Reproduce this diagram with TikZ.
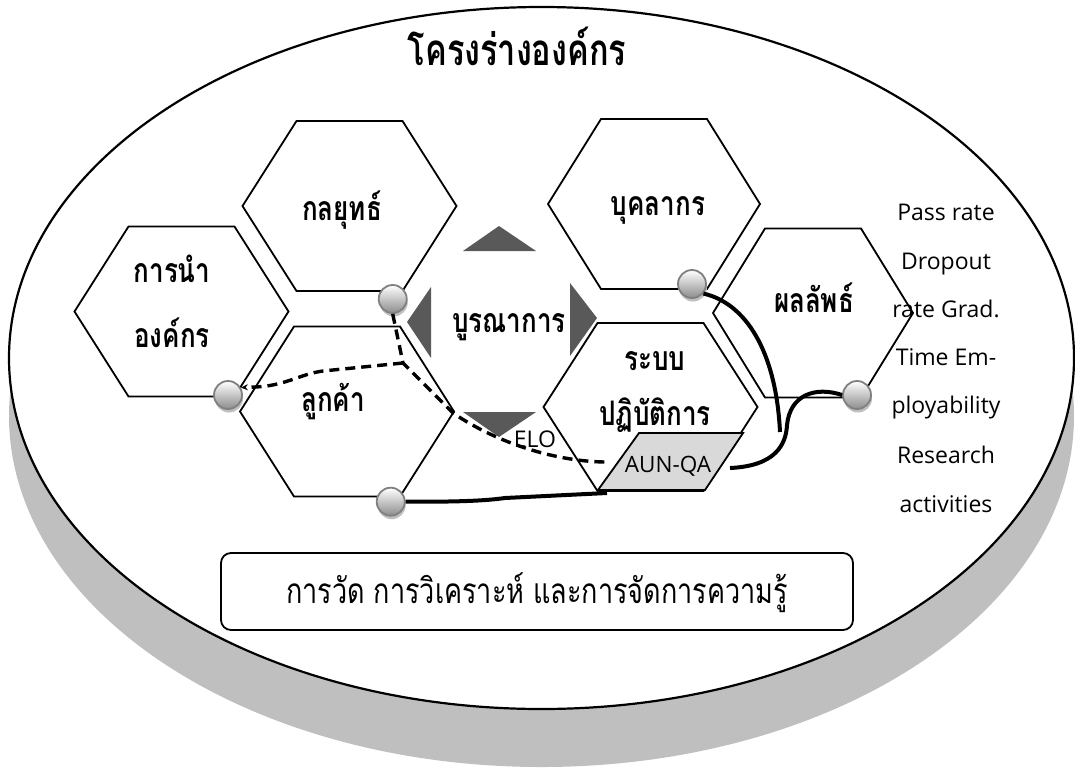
\documentclass[tikz,border=0pt]{standalone}
\usepackage{graphicx}
\usepackage{fontspec}
\setmainfont{Open Sans}
\newfontfamily\thai[Script=Thai]{Loma}
\usetikzlibrary{shadows,arrows.meta}
\definecolor{sidegray}{RGB}{191,191,191}
\definecolor{trigray}{RGB}{89,89,89}
\definecolor{aungray}{RGB}{217,217,217}
\newcommand{\vstretch}[2]{\scalebox{1}[#1]{#2}}
\newcommand{\hexagon}[5]{%
  \draw[hexline] ({#1-#3},#2) -- ({#1-#4},{#2-#5}) -- ({#1+#4},{#2-#5}) -- ({#1+#3},#2)
    -- ({#1+#4},{#2+#5}) -- ({#1-#4},{#2+#5}) -- cycle;}
\tikzset{
  hexline/.style={draw=black, line width=1.8pt, fill=white, line join=miter},
  ball/.style={circle, minimum size=28pt, inner sep=0pt, draw=black!50, line width=1.8pt,
    top color=white, bottom color=black!45,
    drop shadow={shadow xshift=1pt, shadow yshift=-3.5pt, fill=black!25, opacity=1}},
  conn/.style={line width=4pt, draw=black},
  dashconn/.style={line width=3.4pt, draw=black, dash pattern=on 10pt off 6pt},
  lab/.style={font=\thai\bfseries\fontsize{26}{30}\selectfont, anchor=base, inner sep=0pt},
  tri/.style={fill=trigray, draw=none},
  side/.style={font=\fontsize{23}{27}\selectfont, anchor=base, inner sep=0pt},
}
\begin{document}
\begin{tikzpicture}[x=1pt,y=-1pt]
\useasboundingbox (0,0) rectangle (1075,771);
% base
\fill[sidegray] (541.5,416) ellipse [x radius=532.5pt, y radius=351pt];
\draw[line width=2.2pt, fill=white] (541.5,358) ellipse [x radius=532.5pt, y radius=351pt];
\node[font=\thai\bfseries\fontsize{32.5}{36}\selectfont, anchor=base, inner sep=0pt] (title) at (517,65) {\vstretch{1.35}{โครงร่างองค์กร}};
% hexagons
\hexagon{349.5}{206}{107}{53}{85}
\hexagon{181.5}{311.5}{107}{53}{85}
\hexagon{347}{411.5}{107}{53}{85}
\hexagon{654}{204}{106}{53}{85}
\hexagon{813}{313}{100}{48}{84.5}
\hexagon{650.5}{407}{107}{53}{84}
% parallelogram
\draw[fill=aungray, line width=1.8pt] (639,433) -- (743,433) -- (705,490) -- (598,490) -- cycle;
\node[font=\fontsize{22.5}{26}\selectfont, anchor=base, inner sep=0pt] (aun) at (668,472) {AUN-QA};
% triangles
\fill[tri] (463,251) -- (536,251) -- (499,226) -- cycle;
\fill[tri] (463,412) -- (536,412) -- (499,437) -- cycle;
\fill[tri] (431,287) -- (431,358) -- (407,322) -- cycle;
\fill[tri] (570,283) -- (570,356) -- (597,318) -- cycle;
% labels
\node[lab] (l1) at (342,220) {\vstretch{1.3}{กลยุทธ์}};
\node[lab] (l2) at (172,282) {\vstretch{1.3}{การนำ}};
\node[lab] (l3) at (172,347) {\vstretch{1.3}{องค์กร}};
\node[lab] (l4) at (333,411) {\vstretch{1.3}{ลูกค้า}};
\node[lab] (l5) at (658,215) {\vstretch{1.3}{บุคลากร}};
\node[lab] (l6) at (814,312) {\vstretch{1.3}{ผลลัพธ์}};
\node[lab] (l7) at (509,332) {\vstretch{1.3}{บูรณาการ}};
\node[lab] (l8) at (655,370) {\vstretch{1.3}{ระบบ}};
\node[lab] (l9) at (655,425) {\vstretch{1.3}{ปฏิบัติการ}};
\node[font=\fontsize{23}{27}\selectfont, anchor=base, inner sep=0pt] (elo) at (535,447) {ELO};
% right column
\node[side] (r1) at (946,220) {Pass rate};
\node[side] (r2) at (946,269) {Dropout};
\node[side] (r3) at (946,317) {rate Grad.};
\node[side] (r4) at (946,365) {Time Em-};
\node[side] (r5) at (946,413) {ployability};
\node[side] (r6) at (946,463) {Research};
\node[side] (r7) at (946,512) {activities};
% bottom box
\node[draw, line width=1.8pt, rounded corners=10pt, minimum width=632pt, minimum height=77pt, inner sep=0pt] (box) at (537,591.5) {};
\node[font=\thai\fontsize{27}{31}\selectfont, anchor=base, inner sep=0pt] (boxtext) at (537,603) {\vstretch{1.3}{การวัด การวิเคราะห์ และการจัดการความรู้}};
% balls
\node[ball] (b1) at (392.7,299) {};
\node[ball] (b2) at (228,395) {};
\node[ball] (b3) at (390.7,501.7) {};
\node[ball] (b4) at (692,284) {};
\node[ball] (b5) at (857,395) {};
% connector junctions
\coordinate (j1) at (403,363);
\coordinate (j2) at (453,413);
\coordinate (j3) at (323,371);
\coordinate (aw) at (607,462);
\coordinate (as) at (607,493);
\coordinate (ae) at (730,468);
\coordinate (ce) at (780,432);
% connectors
\draw[dashconn] (b1.south) -- (j1) -- (j2) .. controls (500,445) and (560,462) .. (aw);
\draw[dashconn, -{Stealth[length=7pt,width=6pt]}] (j1) -- (j3) .. controls (300,374) and (285,386) .. (255,387) -- (b2.30);
\draw[conn] (b3.east) .. controls (470,502) and (490,500) .. (505,498) -- (as);
\draw[conn] (b4.-40) .. controls (745,303) and (776,350) .. (ce);
\draw[conn] (ae) .. controls (775,466) and (786,445) .. (787,425) .. controls (790,395) and (815,386) .. (b5.west);
\end{tikzpicture}
\end{document}
